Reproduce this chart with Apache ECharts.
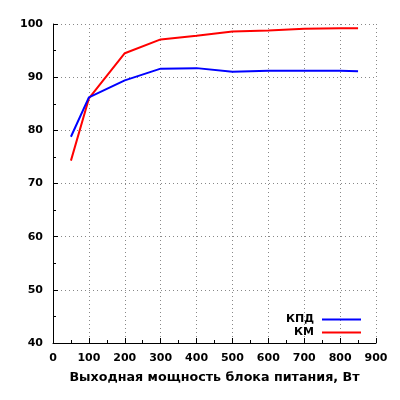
<!DOCTYPE html>
<html lang="ru">
  <head>
    <meta charset="UTF-8" />
    <title>КПД и КМ</title>
    <script src="https://cdn.jsdelivr.net/npm/echarts@6/dist/echarts.min.js"></script>
    <style>
      html, body { margin: 0; padding: 0; background: #fff; }
      #chart { width: 400px; height: 400px; }
    </style>
  </head>
  <body>
    <div id="chart"></div>
  </body>
</html>
<script>
  // мощность, Вт
  const power = [50, 100, 200, 300, 400, 500, 600, 700, 800, 850];
  // КПД, %
  const kpd = [78.8, 86.2, 89.4, 91.6, 91.7, 91.0, 91.2, 91.2, 91.2, 91.1];
  // КМ, %
  const km = [74.3, 86.0, 94.5, 97.1, 97.8, 98.6, 98.8, 99.1, 99.2, 99.2];

  const font = "DejaVu Sans";
  const pairs = (ys) => power.map((x, i) => [x, ys[i]]);

  const chart = echarts.init(document.getElementById("chart"));
  const dotted = { show: true, lineStyle: { color: "#888", type: [1, 3], width: 1 } };

  const option = {
    animation: false,
    grid: { left: 53, right: 24, top: 24, bottom: 57 },
    legend: {
      orient: "vertical",
      right: 34,
      top: 308,
      padding: 5,
      align: "right",
      icon: "rect",
      itemWidth: 39,
      itemHeight: 2,
      itemGap: 0,
      textStyle: { fontFamily: font, fontWeight: "bold", fontSize: 11, lineHeight: 13, color: "#000", padding: [0, 3, 0, 0] },
      data: ["КПД", "КМ"],
    },
    xAxis: {
      type: "value",
      min: 0,
      max: 900,
      interval: 100,
      name: "Выходная мощность блока питания, Вт",
      nameLocation: "middle",
      nameGap: 28,
      nameTextStyle: { fontFamily: font, fontWeight: "bold", fontSize: 12.7, color: "#000" },
      axisLine: { show: true, lineStyle: { color: "#000", width: 1 } },
      axisTick: { show: true, inside: true, length: 5, lineStyle: { color: "#000" } },
      minorTick: { show: true, splitNumber: 2, length: 3, lineStyle: { color: "#000" } },
      axisLabel: { margin: 10, fontFamily: font, fontWeight: "bold", fontSize: 11, color: "#000" },
      splitLine: dotted,
    },
    yAxis: {
      type: "value",
      min: 40,
      max: 100,
      interval: 10,
      axisLine: { show: true, lineStyle: { color: "#000", width: 1 } },
      axisTick: { show: true, inside: true, length: 5, lineStyle: { color: "#000" } },
      minorTick: { show: true, splitNumber: 2, length: 3, lineStyle: { color: "#000" } },
      axisLabel: { margin: 10, fontFamily: font, fontWeight: "bold", fontSize: 11, color: "#000" },
      splitLine: dotted,
    },
    series: [
      {
        name: "КПД",
        type: "line",
        data: pairs(kpd),
        showSymbol: false,
        symbol: "none",
        color: "#0000ff",
        lineStyle: { width: 2, color: "#0000ff" },
        z: 3,
      },
      {
        name: "КМ",
        type: "line",
        data: pairs(km),
        showSymbol: false,
        symbol: "none",
        color: "#ff0000",
        lineStyle: { width: 2, color: "#ff0000" },
        z: 2,
      },
    ],
  };
  chart.setOption(option);
</script>
